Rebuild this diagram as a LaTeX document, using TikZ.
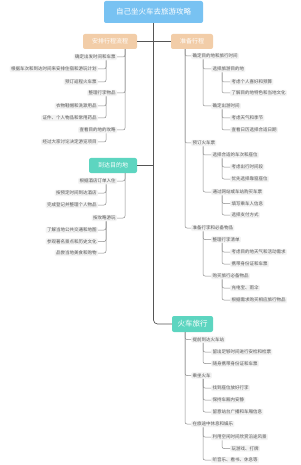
\documentclass[tikz,border=0pt]{standalone}
\usepackage{fontspec}
\setmainfont{Noto Sans CJK SC}
\definecolor{titleblue}{HTML}{78C2F2}
\definecolor{peach}{HTML}{F2CDA8}
\definecolor{teal}{HTML}{5DD5C0}
\definecolor{leafbg}{HTML}{F3F3F3}
\definecolor{leaftext}{HTML}{555555}
\definecolor{linegray}{HTML}{8A8A8A}
\definecolor{trunkgray}{HTML}{555555}
\begin{document}
\begin{tikzpicture}[x=1pt,y=-1pt,
  leaf/.style={fill=leafbg, rounded corners=1pt, inner xsep=1.3pt, inner ysep=1.1pt,
    font=\fontsize{4.5}{5}\selectfont, text=leaftext},
  lft/.style={leaf, anchor=east},
  rgt/.style={leaf, anchor=west},
  conn/.style={draw=linegray, line width=0.5pt, rounded corners=2pt},
  trunk/.style={draw=trunkgray, line width=0.7pt, rounded corners=4pt},
  mainbox/.style={rounded corners=2pt, text=white, inner sep=0pt, minimum height=15pt,
    font=\fontsize{6}{7}\selectfont}]
\useasboundingbox (0,0) rectangle (300,465);

% title and main branches
\node[fill=titleblue, rounded corners=2pt, text=white, minimum width=99pt, minimum height=22pt,
  inner sep=0pt, font=\fontsize{7.5}{8}\selectfont] (T) at (153.5,12) {自己坐火车去旅游攻略};
\node[mainbox, fill=peach, minimum width=54pt] (A) at (110,41.5) {安排行程流程};
\node[mainbox, fill=peach, minimum width=42pt] (B) at (192,41.5) {准备行程};
\node[mainbox, fill=teal, minimum width=48pt] (C) at (113,165.5) {到达目的地};
\node[mainbox, fill=teal, minimum width=41pt, minimum height=16pt, font=\fontsize{7.5}{8}\selectfont] (D) at (192.5,324) {火车旅行};

\draw[trunk] (T.south) |- (D.west);
\draw[trunk] (A.east) -- (A.east -| T.south);
\draw[trunk] (B.west) -- (B.west -| T.south);
\draw[trunk] (C.east) -- (C.east -| T.south);

% vertical guide coordinates
\coordinate (xl1) at (125,0);
\coordinate (xl2) at (106,0);
\coordinate (xr1) at (185,0);
\coordinate (xr2) at (203,0);
\coordinate (xr3) at (222,0);

% ---- A: 安排行程流程
\node[lft] (a1) at (117,57) {确定出发时间和车票};
\node[lft] (a11) at (98,69) {根据车次和到达时间来安排住宿和游玩计划};
\node[lft] (a12) at (98,82) {预订返程火车票};
\node[lft] (a2) at (117,93) {整理行李物品};
\node[lft] (a21) at (98,106) {衣物鞋帽和洗漱用品};
\node[lft] (a22) at (98,118) {证件、个人物品和常用药品};
\node[lft] (a3) at (117,130) {查看目的地的攻略};
\node[lft] (a31) at (98,142) {经过大家讨论决定游览项目};
\foreach \c in {a1,a2,a3} \draw[conn] (A.south -| xl1) |- (\c.east);
\foreach \c in {a11,a12} \draw[conn] (a1.south -| xl2) |- (\c.east);
\foreach \c in {a21,a22} \draw[conn] (a2.south -| xl2) |- (\c.east);
\draw[conn] (a3.south -| xl2) |- (a31.east);

% ---- C: 到达目的地
\node[lft] (c1) at (117,181) {根据酒店订单入住};
\node[lft] (c11) at (98,193) {按预定时间到达酒店};
\node[lft] (c12) at (98,205) {完成登记并整理个人物品};
\node[lft] (c2) at (117,218) {按攻略游玩};
\node[lft] (c21) at (98,230) {了解当地公共交通和地图};
\node[lft] (c22) at (98,241.5) {参观著名景点和历史文化};
\node[lft] (c23) at (98,253) {品尝当地美食和购物};
\foreach \c in {c1,c2} \draw[conn] (C.south -| xl1) |- (\c.east);
\foreach \c in {c11,c12} \draw[conn] (c1.south -| xl2) |- (\c.east);
\foreach \c in {c21,c22,c23} \draw[conn] (c2.south -| xl2) |- (\c.east);

% ---- B: 准备行程
\node[rgt] (b1) at (191,56) {确定目的地和旅行时间};
\node[rgt] (b11) at (211,69) {选择旅游目的地};
\node[rgt] (b111) at (230,82) {考虑个人喜好和预算};
\node[rgt] (b112) at (230,93) {了解目的地特色和当地文化};
\node[rgt] (b12) at (211,106) {确定出游时间};
\node[rgt] (b121) at (230,118) {考虑天气和季节};
\node[rgt] (b122) at (230,130) {查看日历选择合适日期};
\node[rgt] (b2) at (191,143) {预订火车票};
\node[rgt] (b21) at (211,155) {选择合适的车次和座位};
\node[rgt] (b211) at (230,167) {考虑出行时间段};
\node[rgt] (b212) at (230,179) {优先选择靠窗座位};
\node[rgt] (b22) at (211,192) {通过网站或车站购买车票};
\node[rgt] (b221) at (230,203.5) {填写乘车人信息};
\node[rgt] (b222) at (230,215) {选择支付方式};
\node[rgt] (b3) at (191,228) {准备行李和必备物品};
\node[rgt] (b31) at (211,239.5) {整理行李清单};
\node[rgt] (b311) at (230,252) {考虑目的地天气和活动需求};
\node[rgt] (b312) at (230,264) {携带身份证和车票};
\node[rgt] (b32) at (211,276) {购买旅行必备物品};
\node[rgt] (b321) at (230,288) {充电宝、雨伞};
\node[rgt] (b322) at (230,300) {根据需求购买相应旅行物品};
\foreach \c in {b1,b2,b3} \draw[conn] (B.south -| xr1) |- (\c.west);
\foreach \c in {b11,b12} \draw[conn] (b1.south -| xr2) |- (\c.west);
\foreach \c in {b111,b112} \draw[conn] (b11.south -| xr3) |- (\c.west);
\foreach \c in {b121,b122} \draw[conn] (b12.south -| xr3) |- (\c.west);
\foreach \c in {b21,b22} \draw[conn] (b2.south -| xr2) |- (\c.west);
\foreach \c in {b211,b212} \draw[conn] (b21.south -| xr3) |- (\c.west);
\foreach \c in {b221,b222} \draw[conn] (b22.south -| xr3) |- (\c.west);
\foreach \c in {b31,b32} \draw[conn] (b3.south -| xr2) |- (\c.west);
\foreach \c in {b311,b312} \draw[conn] (b31.south -| xr3) |- (\c.west);
\foreach \c in {b321,b322} \draw[conn] (b32.south -| xr3) |- (\c.west);

% ---- D: 火车旅行
\node[rgt] (d1) at (191,339.5) {提前到达火车站};
\node[rgt] (d11) at (211,352) {留出足够时间进行安检和检票};
\node[rgt] (d12) at (211,363.5) {随身携带身份证和车票};
\node[rgt] (d2) at (191,375.5) {乘坐火车};
\node[rgt] (d21) at (211,388) {找到座位放好行李};
\node[rgt] (d22) at (211,400) {保持车厢内安静};
\node[rgt] (d23) at (211,412) {留意站台广播和车厢信息};
\node[rgt] (d3) at (191,424) {在旅途中休息和娱乐};
\node[rgt] (d31) at (211,437) {利用空闲时间欣赏沿途风景};
\node[rgt] (d311) at (230,448.5) {玩游戏、打牌};
\node[rgt] (d32) at (211,460) {听音乐、看书、休息等};
\foreach \c in {d1,d2,d3} \draw[conn] (D.south -| xr1) |- (\c.west);
\foreach \c in {d11,d12} \draw[conn] (d1.south -| xr2) |- (\c.west);
\foreach \c in {d21,d22,d23} \draw[conn] (d2.south -| xr2) |- (\c.west);
\foreach \c in {d31,d32} \draw[conn] (d3.south -| xr2) |- (\c.west);
\draw[conn] (d31.south -| xr3) |- (d311.west);
\end{tikzpicture}
\end{document}
